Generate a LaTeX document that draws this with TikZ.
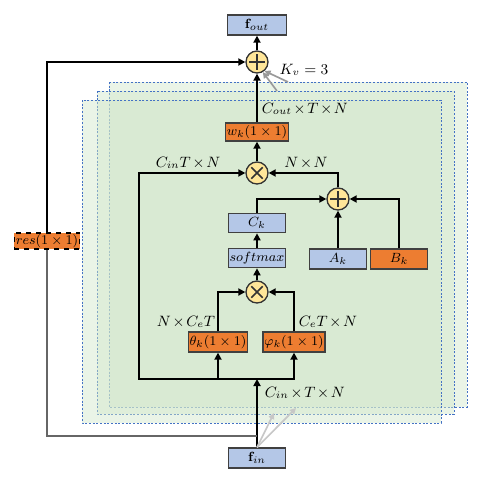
\documentclass[tikz,border=0pt]{standalone}
\usepackage{amsmath, amssymb}
\usetikzlibrary{arrows.meta, positioning, calc}

\definecolor{boxblue}{HTML}{B4C7E7}
\definecolor{boxorange}{HTML}{ED7D31}
\definecolor{opyellow}{HTML}{FFE699}
\definecolor{layergreen}{RGB}{209,230,202}
\definecolor{layerblue}{HTML}{4472C4}

\begin{document}
\begin{tikzpicture}[
    x=0.6pt, y=-0.6pt,
    % Styles
    block/.style={draw=black!75, line width=0.8pt, minimum width=34.2pt, minimum height=11.6pt, inner sep=0.8pt, font={\fontsize{8.2}{10}\selectfont}},
    featblock/.style={block, fill=boxblue},
    convblock/.style={block, fill=boxorange},
    opcircle/.style={circle, draw=black!80, line width=0.8pt, fill=opyellow, minimum size=13.2pt, inner sep=0pt},
    plusop/.style={opcircle, path picture={\draw[line width=1pt] (path picture bounding box.center) +(-4.6pt,0) -- +(4.6pt,0) +(0,-4.6pt) -- +(0,4.6pt);}},
    timesop/.style={opcircle, path picture={\draw[line width=1pt] (path picture bounding box.center) +(-3.4pt,-3.4pt) -- +(3.4pt,3.4pt) +(-3.4pt,3.4pt) -- +(3.4pt,-3.4pt);}},
    layer/.style={draw=layerblue, line width=0.6pt, dash pattern=on 1.2pt off 1pt, fill=layergreen, fill opacity=0.45},
    dimlabel/.style={font={\small\medmuskip=2mu\relax}},
    arrowstyle/.style={-{Triangle[length=4.2pt, width=4.2pt]}, line width=1.1pt},
    ghostarrow/.style={-{Triangle[length=3.6pt, width=3.6pt]}, line width=1pt},
]
    \useasboundingbox (0,0) rectangle (497,483);

    % Stacked layers (K_v = 3)
    \path[layer] (109,82) rectangle (467,407);
    \path[layer] (97,91) rectangle (454,414);
    \path[layer] (82,100) rectangle (441,423);

    % Output side
    \node[featblock, minimum width=35.4pt, minimum height=12pt] (fout) at (257,25) {$\mathbf{f}_{out}$};
    \node[plusop] (plustop) at (257,62) {};
    \node[dimlabel] (kvlabel) at (304,70) {$K_v=3$};
    \node[convblock, minimum height=10.8pt] (wk) at (257,132) {$w_k(1\times1)$};
    \node[dimlabel, anchor=west] (coutlabel) at (256,109) {$C_{out}\times T\times N$};

    % Attention branch
    \node[timesop] (multop) at (257,173) {};
    \node[dimlabel] (cintlabel) at (188,163) {$C_{in}T\times N$};
    \node[dimlabel] (nnlabel) at (306,163) {$N\times N$};
    \node[plusop] (plusattn) at (338,199) {};
    \node[featblock] (ck) at (257,223) {$C_k$};
    \node[featblock] (softmax) at (257,258) {$softmax$};
    \node[featblock, minimum height=12pt] (ak) at (338,259) {$A_k$};
    \node[convblock, minimum height=12pt] (bk) at (399,259) {$B_k$};
    \node[timesop] (mulbot) at (257,292) {};

    % Embedding functions
    \node[convblock, minimum height=12pt] (theta) at (218,342) {$\theta_k(1\times1)$};
    \node[convblock, minimum height=12pt] (phi) at (294,342) {$\varphi_k(1\times1)$};
    \node[dimlabel, anchor=east] (thetalabel) at (221,322) {$N\times C_eT$};
    \node[dimlabel, anchor=west] (philabel) at (293,322) {$C_eT\times N$};

    % Input and residual
    \node[featblock, minimum height=12pt] (fin) at (257,458) {$\mathbf{f}_{in}$};
    \node[dimlabel, anchor=west] (cinlabel) at (259,393) {$C_{in}\times T\times N$};
    \node[convblock, draw=black, dashed, minimum width=38.4pt, minimum height=9.6pt, font=\footnotesize] (res) at (47,241) {$res(1\times1)$};

    \coordinate (split) at (257,379);
    \coordinate (leftturn) at (139,379);
    \coordinate (resturn) at (47,436);
    \coordinate (resjoin) at (257,436);

    % Main connectors
    \draw[arrowstyle] (fin.north) -- (split);
    \draw[arrowstyle] (split) -| (theta.south);
    \draw[arrowstyle] (split) -| (phi.south);
    \draw[arrowstyle] (split) -- (leftturn) |- (multop.west);
    \draw[arrowstyle] (theta.north) |- (mulbot.west);
    \draw[arrowstyle] (phi.north) |- (mulbot.east);
    \draw[arrowstyle] (mulbot.north) -- (softmax.south);
    \draw[arrowstyle] (softmax.north) -- (ck.south);
    \draw[arrowstyle] (ck.north) |- (plusattn.west);
    \draw[arrowstyle] (ak.north) -- (plusattn.south);
    \draw[arrowstyle] (bk.north) |- (plusattn.east);
    \draw[arrowstyle] (plusattn.north) |- (multop.east);
    \draw[arrowstyle] (multop.north) -- (wk.south);
    \draw[arrowstyle] (wk.north) -- (plustop.south);
    \draw[arrowstyle] (plustop.north) -- (fout.south);

    % Residual path
    \draw[line width=1pt, black!60] (resjoin) -- (resturn) -- (res.south);
    \draw[arrowstyle] (res.north) |- (plustop.west);

    % Connectors of the other layers
    \coordinate (midtop) at (277,91);
    \coordinate (backtop) at (288,82);
    \coordinate (midbot) at (274,413);
    \coordinate (backbot) at (296,408);
    \draw[ghostarrow, black!40] (midtop) -- (plustop.-60);
    \draw[ghostarrow, black!40] (backtop) -- (plustop.-50);
    \draw[ghostarrow, black!22] (fin.north) -- (midbot);
    \draw[ghostarrow, black!22] (fin.north) -- (backbot);

\end{tikzpicture}
\end{document}
